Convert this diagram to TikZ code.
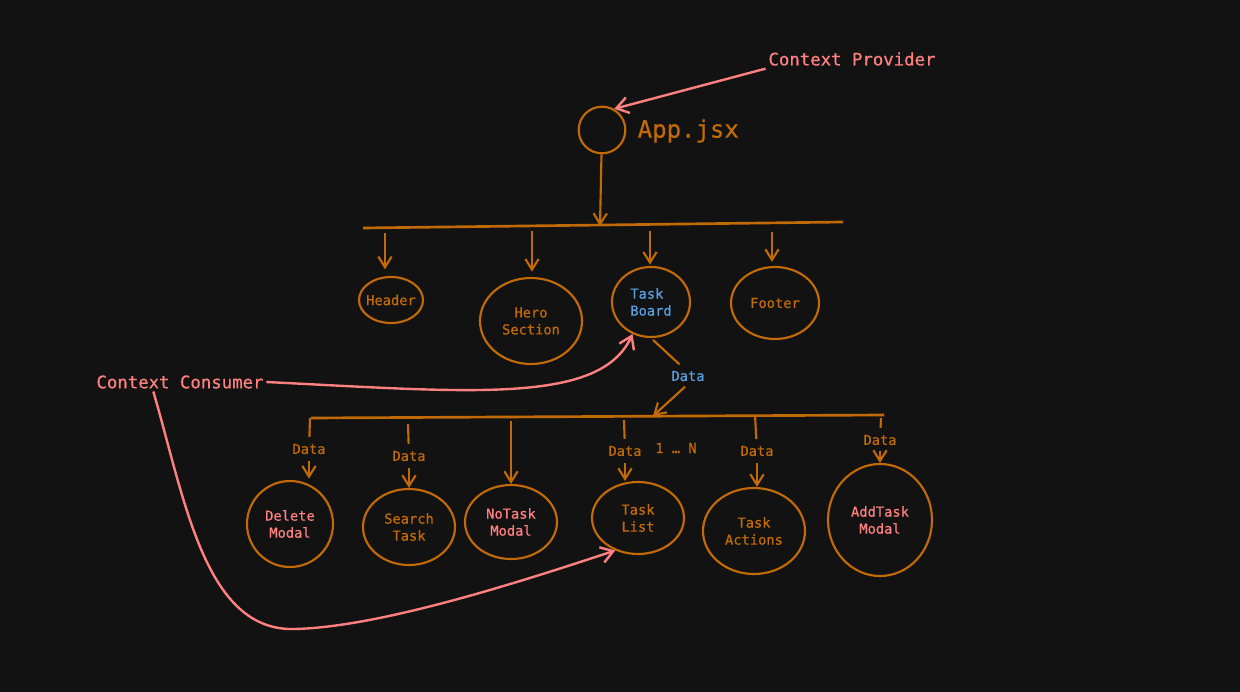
\documentclass[tikz,border=0pt]{standalone}
\usepackage{fontspec}
\newfontfamily\sketchfont[FakeBold=0.5]{DejaVu Sans Mono}
\usetikzlibrary{shapes,arrows.meta,positioning}
\definecolor{bgdark}{HTML}{121212}
\definecolor{rust}{HTML}{C26A06}
\definecolor{salmon}{HTML}{FF8080}
\definecolor{skyblue}{HTML}{58A0E0}

\begin{document}
\begin{tikzpicture}[x=0.75pt, y=-0.75pt,
    bubble/.style={ellipse, draw=rust, line width=1.6pt, inner sep=0pt, align=center,
                   font=\sketchfont\fontsize{10.3}{12.75}\selectfont, text=rust},
    datatag/.style={font=\sketchfont\fontsize{10.3}{12.75}\selectfont, text=rust, inner sep=2pt},
    note/.style={font=\sketchfont\fontsize{13}{15}\selectfont, text=salmon, inner sep=2pt},
    arrow/.style={-{Straight Barb[length=8pt, width=10pt]}, line width=1.6pt, rust},
    stem/.style={line width=1.6pt, rust},
    bar/.style={line width=2pt, rust},
    pointer/.style={-{Straight Barb[length=9pt, width=12pt]}, line width=1.8pt, salmon}
]
    % Background
    \fill[bgdark] (0,0) rectangle (1240,692);

    % Provider
    \node[note] (cprov) at (852,59) {Context Provider};
    \node[circle, draw=rust, line width=1.6pt, minimum size=35pt, inner sep=0pt] (app) at (602,130) {};
    \node[anchor=west, text=rust, font=\sketchfont\fontsize{18}{20}\selectfont] (appname) at (633,131) {App.jsx};
    \draw[pointer] (cprov.south west) -- (app.60);

    % First level
    \coordinate (bar1w) at (363,228);
    \coordinate (bar1e) at (843,222);
    \coordinate (bar1m) at (600,226);
    \draw[bar] (bar1w) -- (bar1e);
    \draw[arrow] (app) -- (bar1m);

    \node[bubble, minimum width=48pt, minimum height=34.5pt, inner xsep=-4pt] (header) at (391,300) {Header};
    \node[bubble, minimum width=76.5pt, minimum height=64.5pt] (hero) at (531,321) {Hero\\Section};
    \node[bubble, minimum width=58.5pt, minimum height=52.5pt, text=skyblue, align=left] (board) at (651,302) {Task\\Board};
    \node[bubble, minimum width=66pt, minimum height=54pt] (footer) at (775,303) {Footer};

    \coordinate (dheader) at (385,233);
    \coordinate (dhero) at (532,231);
    \coordinate (dboard) at (650,231);
    \coordinate (dfooter) at (772,232);
    \draw[arrow, shorten >=5pt] (dheader) -- (dheader |- header.north);
    \draw[arrow, shorten >=4pt] (dhero) -- (dhero |- hero.north);
    \draw[arrow, shorten >=1pt] (dboard) -- (dboard |- board.north);
    \draw[arrow, shorten >=3pt] (dfooter) -- (dfooter |- footer.north);

    % Board data
    \node[datatag, text=skyblue] (bdata) at (688,376) {Data};
    \draw[stem, shorten <=2pt, shorten >=4pt] (board.south) -- (bdata.120);

    % Second level
    \coordinate (bar2w) at (311,418);
    \coordinate (bar2e) at (884,415);
    \coordinate (bar2m) at (653,416);
    \draw[bar] (bar2w) -- (bar2e);
    \draw[arrow, shorten <=3pt] (bdata.south) -- (bar2m);

    \node[bubble, minimum width=64.5pt, minimum height=64.5pt, text=salmon] (delmodal) at (290,524) {Delete\\Modal};
    \node[bubble, minimum width=69pt, minimum height=57pt] (search) at (409,527) {Search\\Task};
    \node[bubble, minimum width=69pt, minimum height=55.5pt, text=salmon] (notask) at (511,522) {NoTask\\Modal};
    \node[bubble, minimum width=69pt, minimum height=54pt] (list) at (638,518) {Task\\List};
    \node[bubble, minimum width=76.5pt, minimum height=64.5pt] (actions) at (754,531) {Task\\Actions};
    \node[bubble, minimum width=78pt, minimum height=84pt, text=salmon] (addtask) at (880,520) {AddTask\\Modal};

    \node[datatag] (ddel) at (309,449) {Data};
    \node[datatag] (dsearch) at (409,456) {Data};
    \node[datatag] (dlist) at (625,451) {Data};
    \node[datatag] (dcount) at (676,448) {1 … N};
    \node[datatag] (dactions) at (757,451) {Data};
    \node[datatag] (daddtask) at (880,440) {Data};

    \coordinate (tdel) at (310,418);
    \coordinate (tsearch) at (408,424);
    \coordinate (tnotask) at (511,421);
    \coordinate (tlist) at (624,420);
    \coordinate (tactions) at (755,415);
    \coordinate (taddtask) at (881,418);

    \draw[stem, shorten >=3pt] (tdel) -- (ddel);
    \draw[stem, shorten >=3pt] (tsearch) -- (dsearch);
    \draw[stem, shorten >=3pt] (tlist) -- (dlist);
    \draw[stem, shorten >=3pt] (tactions) -- (dactions);
    \draw[stem, shorten >=3pt] (taddtask) -- (daddtask);

    \draw[arrow, shorten <=3pt, shorten >=1pt] (ddel) -- (ddel |- delmodal.north);
    \draw[arrow, shorten <=3pt] (dsearch) -- (search);
    \draw[arrow] (tnotask) -- (notask);
    \draw[arrow, shorten <=3pt] (dlist) -- (dlist |- list.north);
    \draw[arrow, shorten <=3pt] (dactions) -- (dactions |- actions.north);
    \draw[arrow, shorten <=2pt] (daddtask) -- (addtask);

    % Consumer
    \node[note] (ccons) at (180,382) {Context Consumer};
    \draw[pointer] (ccons.east) .. controls (470,392) and (600,405) .. (board.240);
    \draw[pointer] ([xshift=-20pt]ccons.south) .. controls (185,500) and (205,632) .. (295,629)
        .. controls (380,627) and (520,582) .. (list.235);
\end{tikzpicture}
\end{document}
